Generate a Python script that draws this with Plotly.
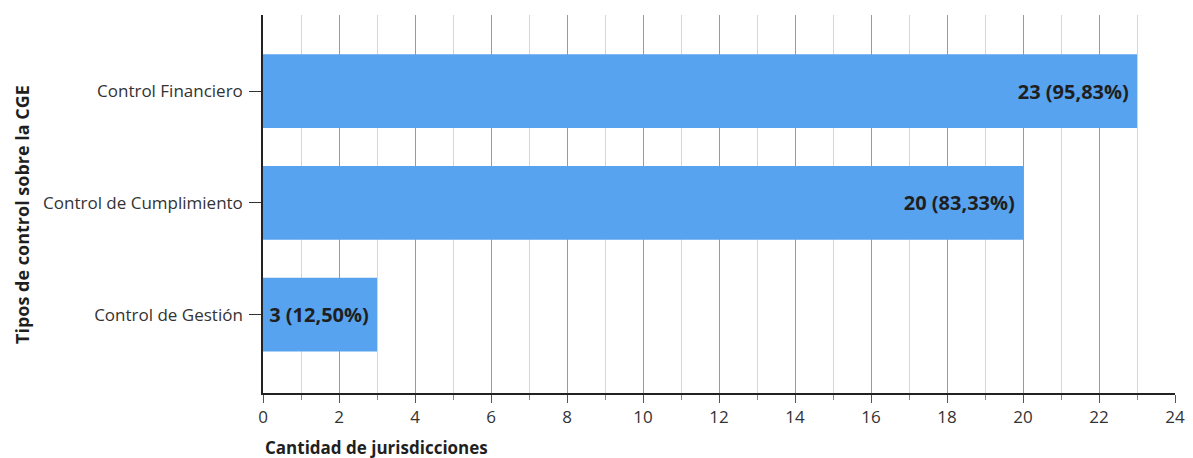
import plotly.graph_objects as go

categories = ["Control de Gestión", "Control de Cumplimiento", "Control Financiero"]
values = [3, 20, 23]
labels = ["3 (12,50%)", "20 (83,33%)", "23 (95,83%)"]
x_ticks = list(range(0, 25, 2))

FONT = "Open Sans, sans-serif"

fig = go.Figure(go.Bar(
    y=categories, x=values, orientation="h",
    text=[t + "\u00a0" for t in labels], textposition="inside", insidetextanchor="end",
    textfont=dict(family=FONT, size=20, color="#1f1f1f", weight="bold"),
    marker=dict(color="#57A3F0", line=dict(width=0)),
    width=0.66, cliponaxis=False,
))

# page body adds an 8px offset, so the figure is sized/margined to compensate
fig.update_layout(
    width=1185, height=450,
    margin=dict(l=255, r=18, t=7, b=65),
    plot_bgcolor="white", paper_bgcolor="white",
    showlegend=False,
    font=dict(family=FONT, size=17, color="#333"),
)
fig.update_xaxes(
    range=[0, 24], tickvals=x_ticks, showgrid=True, gridcolor="#9a9a9a", gridwidth=1,
    showline=True, linecolor="#222", linewidth=1.5,
    ticks="outside", ticklen=8, tickcolor="#555",
    tickfont=dict(family=FONT, size=17, color="#333"),
    minor=dict(dtick=1, showgrid=True, gridcolor="#d6d6d6", ticks="outside", ticklen=5, tickcolor="#888"),
    zeroline=False, automargin=False,
)
fig.update_yaxes(
    range=[-0.7, 2.68], showline=True, linecolor="#222", linewidth=1.5,
    ticks="outside", ticklen=12, tickcolor="#333", ticklabelstandoff=3,
    tickfont=dict(family=FONT, size=17, color="#333"), showgrid=False, automargin=False,
)
fig.add_annotation(text="<b>Cantidad de jurisdicciones</b>", xref="paper", yref="paper",
                   x=0, y=0, xanchor="left", yanchor="middle", yshift=-54, showarrow=False,
                   font=dict(family=FONT, size=17, color="#1f1f1f"))
fig.add_annotation(text="<b>Tipos de control sobre la CGE</b>", xref="paper", yref="paper",
                   x=0, y=0.471, xanchor="center", yanchor="middle", xshift=-241, textangle=-90,
                   showarrow=False, font=dict(family=FONT, size=18, color="#1f1f1f"))

fig.write_html("out.html")
